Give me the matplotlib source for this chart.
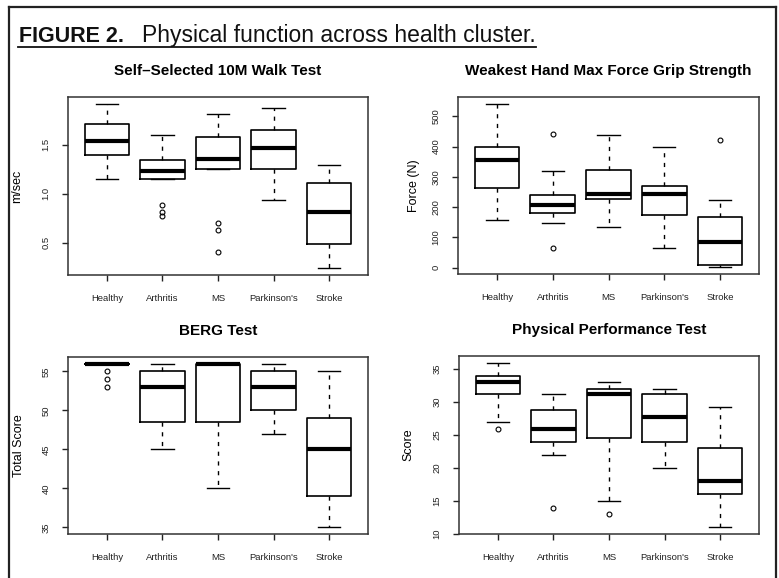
import matplotlib

matplotlib.use("Agg")

import matplotlib.pyplot as plt  # noqa: E402
from matplotlib.lines import Line2D  # noqa: E402

plt.rcParams["font.family"] = ["Liberation Sans", "DejaVu Sans"]

GROUPS = ["Healthy", "Arthritis", "MS", "Parkinson's", "Stroke"]

# Self-selected 10 m walk speed (m/sec)
walk_whislo = [1.15, 1.15, 1.25, 0.94, 0.24]
walk_q1 = [1.40, 1.15, 1.25, 1.25, 0.49]
walk_med = [1.54, 1.23, 1.36, 1.47, 0.81]
walk_q3 = [1.71, 1.35, 1.58, 1.65, 1.11]
walk_whishi = [1.92, 1.60, 1.81, 1.87, 1.29]
walk_fliers = [[], [0.89, 0.81, 0.77], [0.70, 0.63, 0.41], [], []]
walk_ticks = [0.5, 1.0, 1.5]

# Weakest hand max grip force (N)
grip_whislo = [156, 147, 136, 64, 1]
grip_q1 = [263, 180, 227, 174, 8]
grip_med = [355, 207, 243, 243, 86]
grip_q3 = [400, 240, 323, 271, 167]
grip_whishi = [542, 320, 439, 397, 224]
grip_fliers = [[], [441, 66], [], [], [422]]
grip_ticks = [0, 100, 200, 300, 400, 500]

# BERG balance total score
berg_whislo = [56, 45, 40, 47, 35]
berg_q1 = [56, 48.5, 48.5, 50, 39]
berg_med = [56, 53, 56, 53, 45]
berg_q3 = [56, 55, 56, 55, 49]
berg_whishi = [56, 56, 56, 56, 55]
berg_fliers = [[55, 54, 53], [], [], [], []]
berg_ticks = [35, 40, 45, 50, 55]

# Physical performance test score
ppt_whislo = [27, 22, 15, 20, 11]
ppt_q1 = [31.2, 24, 24.5, 24, 16]
ppt_med = [33, 26, 31.2, 27.8, 18]
ppt_q3 = [34, 28.8, 32, 31.2, 23]
ppt_whishi = [36, 31.2, 33, 32, 29.3]
ppt_fliers = [[26], [14], [13], [], []]
ppt_ticks = [10, 15, 20, 25, 30, 35]

PANELS = [
    ("Self\u2013Selected 10M Walk Test", "m/sec",
     (walk_whislo, walk_q1, walk_med, walk_q3, walk_whishi, walk_fliers),
     walk_ticks, [f"{t:.1f}" for t in walk_ticks]),
    ("Weakest Hand Max Force Grip Strength", "Force (N)",
     (grip_whislo, grip_q1, grip_med, grip_q3, grip_whishi, grip_fliers),
     grip_ticks, [str(t) for t in grip_ticks]),
    ("BERG Test", "Total Score",
     (berg_whislo, berg_q1, berg_med, berg_q3, berg_whishi, berg_fliers),
     berg_ticks, [str(t) for t in berg_ticks]),
    ("Physical Performance Test", "Score",
     (ppt_whislo, ppt_q1, ppt_med, ppt_q3, ppt_whishi, ppt_fliers),
     ppt_ticks, [str(t) for t in ppt_ticks]),
]

W, H = 779, 578
# axes boxes in pixels: left, top, right, bottom
BOXES = [(68, 97, 368, 275), (458, 97, 759, 274), (68, 357, 368, 534), (459, 356, 759, 534)]
YLABEL_X = [-0.15, -0.126, -0.145, -0.147]


def box_stats(whislo, q1, med, q3, whishi, fliers):
    return [
        {"whislo": lo, "q1": a, "med": m, "q3": b, "whishi": hi, "fliers": f}
        for lo, a, m, b, hi, f in zip(whislo, q1, med, q3, whishi, fliers)
    ]


def draw_panel(ax, title, ylabel, stats, ticks, ticklabels, label_x):
    ax.bxp(
        box_stats(*stats),
        positions=range(1, len(GROUPS) + 1),
        widths=0.8,
        capwidths=0.4,
        boxprops=dict(color="black", lw=1.2),
        medianprops=dict(color="black", lw=3.0, solid_capstyle="butt"),
        whiskerprops=dict(color="black", lw=1.0, linestyle=(0, (3, 4))),
        capprops=dict(color="black", lw=1.0),
        flierprops=dict(marker="o", markersize=3.5, markerfacecolor="none",
                        markeredgecolor="black", markeredgewidth=0.8),
    )
    values = [v for series in stats[:5] for v in series]
    values += [v for f in stats[5] for v in f]
    lo, hi = min(values), max(values)
    pad = 0.04 * (hi - lo)
    ax.set_ylim(lo - pad, hi + pad)
    ax.set_xlim(0.3, len(GROUPS) + 0.7)
    ax.set_xticks(range(1, len(GROUPS) + 1))
    ax.set_xticklabels(GROUPS)
    ax.set_yticks(ticks)
    ax.set_yticklabels(ticklabels)
    ax.tick_params(axis="both", length=4.5, width=1.0, pad=9, labelsize=6.8,
                   colors="#222222")
    ax.tick_params(axis="y", labelrotation=90, pad=8)
    for lab in ax.get_yticklabels():
        lab.set_va("center")
    for spine in ax.spines.values():
        spine.set_linewidth(1.1)
        spine.set_color("#333333")
    ax.set_title(title, fontsize=11, fontweight="bold", pad=16)
    ax.set_ylabel(ylabel, fontsize=9)
    ax.yaxis.set_label_coords(label_x, 0.5)


fig = plt.figure(figsize=(W / 100, H / 100), dpi=100)

for (title, ylabel, stats, ticks, ticklabels), (l, t, r, b), lx in zip(PANELS, BOXES, YLABEL_X):
    ax = fig.add_axes([l / W, 1 - b / H, (r - l) / W, (b - t) / H])
    draw_panel(ax, title, ylabel, stats, ticks, ticklabels, lx)

# frame around the figure (open at the bottom)
frame = dict(color="#222222", lw=1.6, transform=fig.transFigure)
fig.add_artist(Line2D([8.5 / W, 8.5 / W], [0, 1 - 7 / H], **frame))
fig.add_artist(Line2D([8.5 / W, 776 / W], [1 - 7 / H, 1 - 7 / H], **frame))
fig.add_artist(Line2D([776 / W, 776 / W], [0, 1 - 7 / H], **frame))

# underlined figure heading
base_y = 1 - 42 / H
t1 = fig.text(19 / W, base_y, "FIGURE 2.", fontsize=15.5, fontweight="bold",
              va="baseline", ha="left", color="#111111")
t2 = fig.text(142 / W, base_y, "Physical function across health cluster.", fontsize=16.5,
              va="baseline", ha="left", color="#111111")
renderer = fig.canvas.get_renderer()
x_end = t2.get_window_extent(renderer).x1 / W
fig.add_artist(Line2D([18 / W, x_end], [1 - 47 / H, 1 - 47 / H], color="#111111", lw=1.3,
                      transform=fig.transFigure))

fig.savefig("out.png", dpi=100)
